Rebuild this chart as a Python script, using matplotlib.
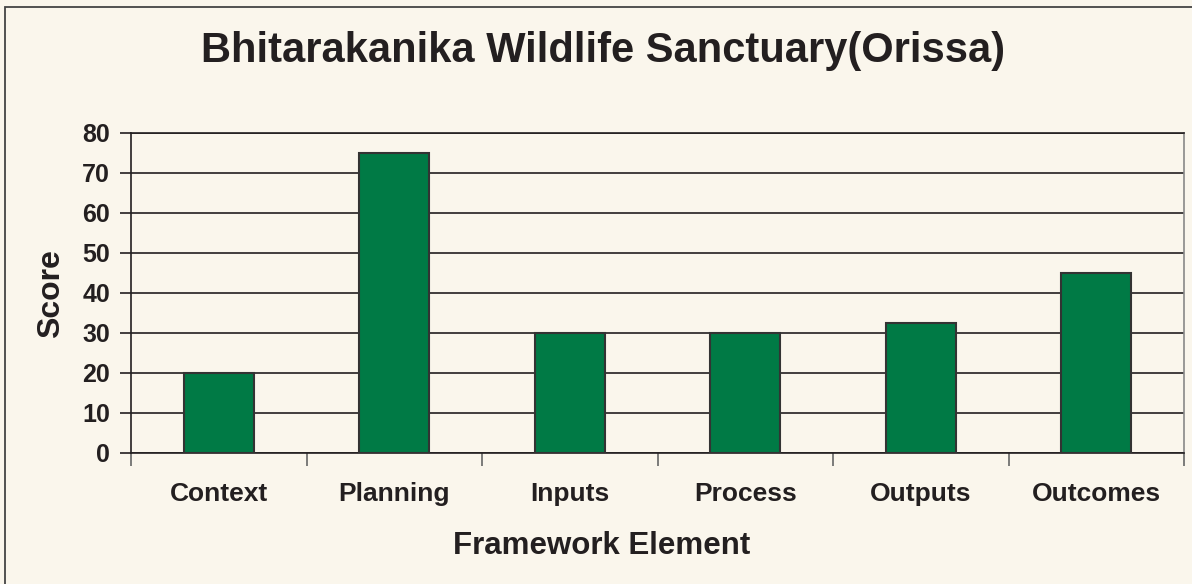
import matplotlib
matplotlib.use("Agg")
import matplotlib.pyplot as plt
from matplotlib.patches import Rectangle

categories = ["Context", "Planning", "Inputs", "Process", "Outputs", "Outcomes"]
scores = [20, 75, 30, 30, 32.5, 45]
yticks = [0, 10, 20, 30, 40, 50, 60, 70, 80]

bg = "#FAF6EC"
dark = "#231F20"
green = "#007A45"

plt.rcParams['font.family'] = ['Liberation Sans', 'DejaVu Sans']

fig = plt.figure(figsize=(11.92, 5.84), dpi=100, facecolor=bg)
ax = fig.add_axes([131/1192, 1-452.5/584, (1184-131)/1192, (452.5-132.5)/584])
ax.set_facecolor(bg)

x = list(range(len(categories)))
ax.bar(x, scores, width=0.40, color=green, edgecolor="#333333", linewidth=1.5, zorder=3)

ax.set_xlim(-0.5, len(categories) - 0.5)
ax.set_ylim(0, 80)
ax.set_yticks(yticks)
ax.set_yticklabels([str(v) for v in yticks], fontsize=18, fontweight='bold', color=dark)
ax.yaxis.grid(True, color=dark, linewidth=1.2, zorder=0)
ax.set_axisbelow(True)

ax.set_xticks(x)
ax.set_xticklabels(categories, fontsize=19, fontweight='bold', color=dark)
ax.tick_params(axis='x', length=0, pad=21)
ax.set_xticks([i + 0.5 for i in range(-1, len(categories))], minor=True)
ax.tick_params(axis='x', which='minor', length=9, width=1.2, color="#666666")
ax.tick_params(axis='y', length=8, width=1.2, color=dark, pad=7)

for s in ['left', 'bottom']:
    ax.spines[s].set_color(dark)
    ax.spines[s].set_linewidth(1.2)
ax.spines['top'].set_color(dark)
ax.spines['top'].set_linewidth(1.2)
ax.spines['right'].set_color("#888888")
ax.spines['right'].set_linewidth(1.2)

fig.text(51/1192, 1-294/584, "Score", fontsize=23, fontweight='bold', color=dark,
         rotation=90, ha='center', va='center')
fig.text(602/1192, 1-546/584, "Framework Element", fontsize=22.5, fontweight='bold', color=dark,
         ha='center', va='center')

fig.text(603/1192, 1-51/584, "Bhitarakanika Wildlife Sanctuary(Orissa)", fontsize=30,
         fontweight='bold', color=dark, ha='center', va='center')

fig.patches.append(Rectangle((5/1192, -0.1), 1.2, 1 - 6.5/584 + 0.1, transform=fig.transFigure,
                             fill=False, edgecolor="#444444", linewidth=1.3))

fig.savefig("out.png", dpi=100, facecolor=bg)
